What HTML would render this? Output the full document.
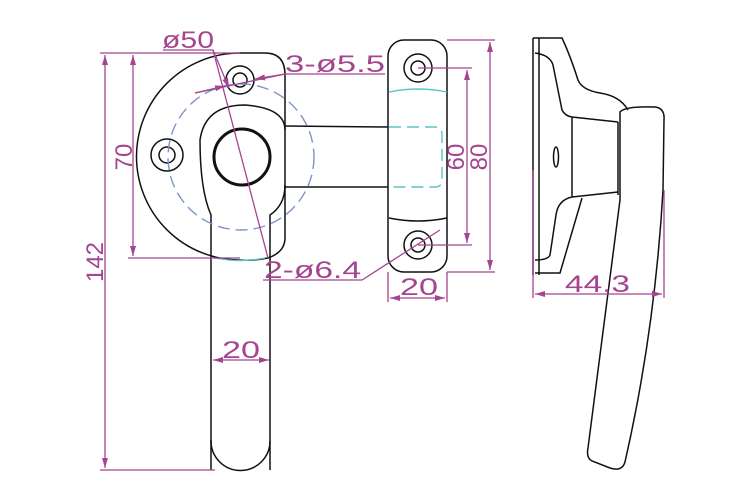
<!DOCTYPE html>
<html><head><style>html,body{margin:0;padding:0;background:#fff}svg{display:block}</style></head>
<body>
<svg width="750" height="500" viewBox="0 0 750 500" xmlns="http://www.w3.org/2000/svg">
<defs>
<marker id="a" viewBox="0 0 10 6" refX="10" refY="3" markerWidth="10" markerHeight="6" orient="auto-start-reverse" markerUnits="userSpaceOnUse"><path d="M0,0 L10,3 L0,6 z" fill="#a4458f"/></marker>
</defs>
<g fill="none" stroke="#111" stroke-width="1.5">
<path d="M240,53 L265,53 Q285,53 285,75 L285,238 Q285,252 268,258 A103,103 0 0 1 240,260 A103.5,103.5 0 0 1 240,53 Z"/>
<circle cx="240" cy="80" r="14"/><circle cx="240" cy="80" r="7"/>
<circle cx="167" cy="155" r="16"/><circle cx="167" cy="155" r="8"/>
<path d="M211,470 L211,215 Q200,190 200,140 Q205,105 245,105 Q285,108 285,130"/>
<path d="M270,470 L270,215 Q285,205 285,185"/>
<path d="M211,440 L211,441 A29.5,29.5 0 0 0 270,441"/>
<circle cx="242" cy="157" r="28" stroke-width="3"/>
<path d="M285,126 L388,127 M285,187 L388,187"/>
<rect x="388" y="40" width="59" height="232" rx="16"/>
<circle cx="418" cy="68" r="14"/><circle cx="418" cy="68" r="7"/>
<circle cx="418" cy="245" r="14"/><circle cx="418" cy="245" r="7"/>
<path d="M389,218 Q418,224 447,218"/>
<path d="M533,38 L533,275 M539,38 L539,275"/>
<path d="M533,38 L562,38 Q570,55 578,80 Q582,90 600,93 Q620,96 628,110"/>
<path d="M535,53 Q550,55 553,65 L562,110 Q565,116 572,117 L618,122"/>
<path d="M572,117 L572,197 M618,122 L618,195"/>
<path d="M572,197 L618,192"/>
<path d="M572,197 Q558,200 556,215 L550,255 Q548,260 535,260"/>
<path d="M582,198 L560,273 L535,273"/>
<path d="M620,112 Q625,106 655,107 Q665,108 664,120 L663,190 Q655,330 625,462 Q622,472 610,468 L592,461 Q586,458 588,448 L620,200 L620,112 Z"/>
<ellipse cx="556" cy="157" rx="2.5" ry="10"/>
</g>
<g fill="none" stroke-width="1.4" stroke-dasharray="12,6">
<circle cx="241" cy="157" r="73" stroke="#7d94c7"/>
<path d="M389,127 L435,127 Q442,127 442,135 L442,180 Q442,187 435,187 L389,187" stroke="#5bc3cc"/>
</g>
<path d="M389,92 Q418,86 447,92" fill="none" stroke="#5bc3cc" stroke-width="1.4"/>
<path d="M215,258 Q240,263 265,258" fill="none" stroke="#5bc3cc" stroke-width="1.4"/>
<g fill="none" stroke="#a4458f" stroke-width="1.3">
<path d="M100,53 L240,53 M100,470 L215,470 M128,258 L240,258"/>
<path d="M105,55 L105,468" marker-start="url(#a)" marker-end="url(#a)"/>
<path d="M133,55 L133,256" marker-start="url(#a)" marker-end="url(#a)"/>
<path d="M163,50 L213,50 L268,258" />
<path d="M213,50 L229,88" marker-end="url(#a)"/>
<path d="M385,74 L285,74 L195,93"/>
<path d="M285,74 L255,79" marker-end="url(#a)"/>
<path d="M195,93 L225,86" marker-end="url(#a)"/>
<path d="M213,360 L269,360" marker-start="url(#a)" marker-end="url(#a)"/>
<path d="M263,280 L362,280 L440,230"/>
<path d="M418,68 L472,68 M418,245 L472,245 M447,40 L495,40 M447,272 L495,272"/>
<path d="M467,70 L467,243" marker-start="url(#a)" marker-end="url(#a)"/>
<path d="M490,42 L490,270" marker-start="url(#a)" marker-end="url(#a)"/>
<path d="M388,272 L388,302 M447,272 L447,302"/>
<path d="M390,298 L445,298" marker-start="url(#a)" marker-end="url(#a)"/>
<path d="M533,170 L533,298 M664,190 L664,298"/>
<path d="M535,294 L662,294" marker-start="url(#a)" marker-end="url(#a)"/>
</g>
<g fill="#a4458f" font-family="Liberation Sans, sans-serif" font-size="24">
<text x="162" y="48" textLength="52" lengthAdjust="spacingAndGlyphs">ø50</text>
<text x="285" y="72" textLength="100" lengthAdjust="spacingAndGlyphs">3-ø5.5</text>
<text x="264" y="278" textLength="97" lengthAdjust="spacingAndGlyphs">2-ø6.4</text>
<text x="222" y="358" textLength="38" lengthAdjust="spacingAndGlyphs">20</text>
<text x="400" y="295" textLength="38" lengthAdjust="spacingAndGlyphs">20</text>
<text x="565" y="292" textLength="65" lengthAdjust="spacingAndGlyphs">44.3</text>
<text transform="translate(132,157) rotate(-90)" text-anchor="middle">70</text>
<text transform="translate(103,262) rotate(-90)" text-anchor="middle">142</text>
<text transform="translate(464,157) rotate(-90)" text-anchor="middle">60</text>
<text transform="translate(487,157) rotate(-90)" text-anchor="middle">80</text>
</g>
</svg>
</body></html>
